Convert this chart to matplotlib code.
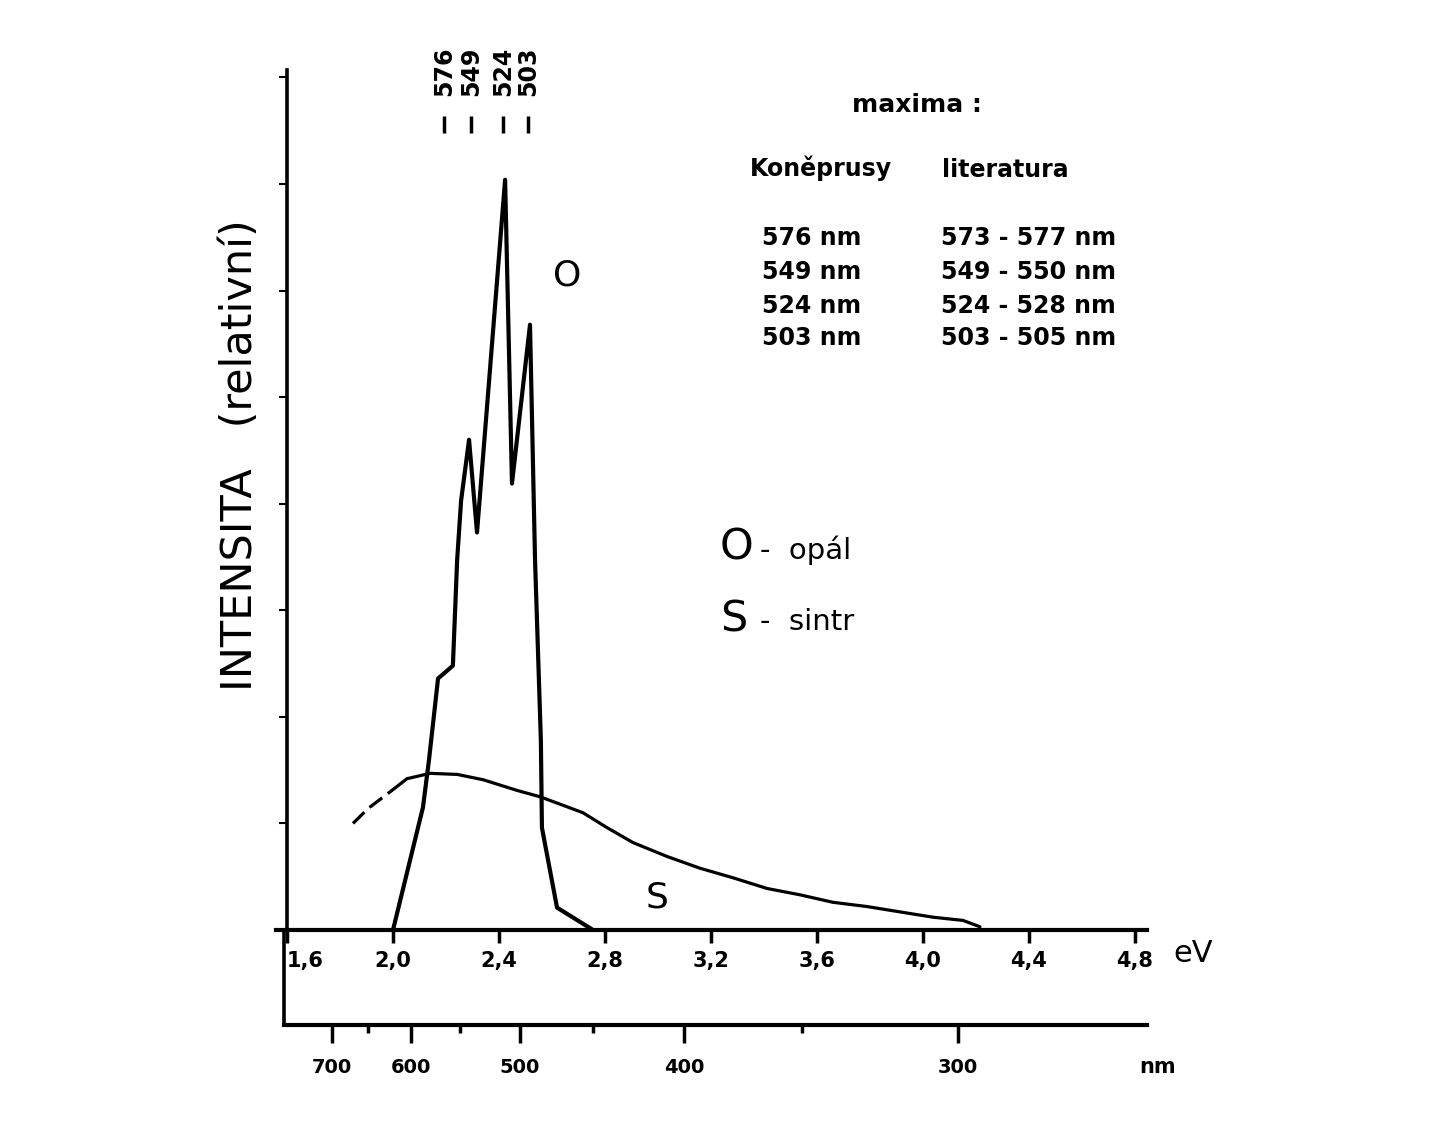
import matplotlib
matplotlib.use('Agg')
import matplotlib.pyplot as plt

# ─── Data ─────────────────────────────────────────────────────────────────────
# energy in eV, intensity in units of one y tick (relative)
opal_ev = [2.000, 2.113, 2.136, 2.170, 2.226, 2.242, 2.257, 2.287, 2.317,
           2.423, 2.449, 2.517, 2.536, 2.558, 2.562, 2.619, 2.755]
opal_int = [0.00, 1.15, 1.60, 2.36, 2.48, 3.47, 4.03, 4.60, 3.73,
            7.04, 4.19, 5.68, 3.47, 1.78, 0.96, 0.21, 0.00]

# first three points of the sintr curve are drawn dashed (extrapolated)
sintr_ev = [1.849, 1.906, 1.996, 2.053, 2.140, 2.242, 2.340, 2.468, 2.555,
            2.642, 2.717, 2.808, 2.906, 3.034, 3.158, 3.283, 3.411, 3.536,
            3.660, 3.789, 3.913, 4.038, 4.151, 4.215]
sintr_int = [1.00, 1.14, 1.31, 1.42, 1.47, 1.46, 1.41, 1.31, 1.25,
             1.17, 1.10, 0.96, 0.82, 0.69, 0.58, 0.49, 0.39, 0.33,
             0.26, 0.22, 0.17, 0.12, 0.09, 0.03]
n_dashed = 3

# marked maxima (position as drawn on the chart, label in nm)
peak_ev = [2.192, 2.294, 2.415, 2.509]
peak_nm = [576, 549, 524, 503]
lit_ranges = ['573 - 577', '549 - 550', '524 - 528', '503 - 505']

ev_ticks = [1.6, 2.0, 2.4, 2.8, 3.2, 3.6, 4.0, 4.4, 4.8]
nm_major = [700, 600, 500, 400, 300]
nm_minor = [650, 550, 450, 350]
HC = 1239.84  # eV*nm

W, H = 1437, 1137
fig = plt.figure(figsize=(W / 100, H / 100), dpi=100)


def fx(px):
    return px / W


def fy(py):
    return 1 - py / H


# ─── Main panel (eV) ──────────────────────────────────────────────────────────
ax = fig.add_axes([fx(276), fy(930), (1147 - 276) / W, (930 - 70) / H])
ax.set_xlim(1.6 - 11 / 265, 1.6 + 860 / 265)
ax.set_ylim(0, 8.07)
ax.spines['top'].set_visible(False)
ax.spines['right'].set_visible(False)
ax.spines['left'].set_position(('data', 1.6))
ax.spines['left'].set_linewidth(2.6)
ax.spines['bottom'].set_linewidth(3)

ax.set_yticks(range(9))
ax.tick_params(axis='y', direction='out', length=6, width=1.5, labelleft=False)
ax.set_xticks(ev_ticks, labels=[f'{v:.1f}'.replace('.', ',') for v in ev_ticks])
ax.tick_params(axis='x', direction='out', length=9, width=2.5, pad=6, labelsize=15)
for i, lbl in enumerate(ax.get_xticklabels()):
    lbl.set_fontweight('bold')
    if i == 0:
        lbl.set_ha('left')

ax.plot(opal_ev, opal_int, color='black', lw=3,
        solid_joinstyle='round', solid_capstyle='round')
ax.plot(sintr_ev[:n_dashed], sintr_int[:n_dashed], color='black', lw=2.3,
        ls=(0, (5, 2.2)))
ax.plot(sintr_ev[n_dashed - 1:], sintr_int[n_dashed - 1:], color='black', lw=2.3,
        solid_joinstyle='round', solid_capstyle='round')

# maxima marks at the top
trans = ax.get_xaxis_transform()
ax.vlines(peak_ev, 0.927, 0.946, transform=trans, color='black', lw=2.5)
for e, nm in zip(peak_ev, peak_nm):
    ax.text(e, 0.998, str(nm), transform=trans, rotation=90, ha='center',
            va='center', fontsize=17, fontweight='bold', clip_on=False)

# ─── nm scale below ───────────────────────────────────────────────────────────
ax_nm = fig.add_axes([fx(284), fy(1025), (1147 - 284) / W, (1025 - 930) / H])
ax_nm.set_xlim(1.6 - 3 / 265, 1.6 + 860 / 265)
ax_nm.set_ylim(0, 1)
ax_nm.patch.set_alpha(0)
ax_nm.spines['top'].set_visible(False)
ax_nm.spines['right'].set_visible(False)
ax_nm.spines['left'].set_linewidth(2.6)
ax_nm.spines['bottom'].set_linewidth(3)
ax_nm.set_yticks([])
ax_nm.set_xticks([HC / v for v in nm_major], labels=[str(v) for v in nm_major])
ax_nm.set_xticks([HC / v for v in nm_minor], minor=True)
ax_nm.tick_params(axis='x', which='major', direction='out', length=13, width=2.5,
                  pad=11, labelsize=14)
ax_nm.tick_params(axis='x', which='minor', direction='out', length=6, width=2.5)
for lbl in ax_nm.get_xticklabels():
    lbl.set_fontweight('bold')

# ─── Texts ────────────────────────────────────────────────────────────────────
fig.text(fx(1193), fy(953), 'eV', fontsize=22, ha='center', va='center')
fig.text(fx(1158), fy(1067), 'nm', fontsize=15, fontweight='bold', ha='center', va='center')
fig.text(fx(240), fy(455), 'INTENSITA   (relativní)', rotation=90, fontsize=31,
         ha='center', va='center')

fig.text(fx(567), fy(275), 'O', fontsize=26, ha='center', va='center')
fig.text(fx(657), fy(898), 'S', fontsize=26, ha='center', va='center')

fig.text(fx(720), fy(548), 'O', fontsize=31, ha='left', va='center')
fig.text(fx(760), fy(550), '-  opál', fontsize=21, ha='left', va='center')
fig.text(fx(720), fy(620), 'S', fontsize=31, ha='left', va='center')
fig.text(fx(760), fy(622), '-  sintr', fontsize=21, ha='left', va='center')

fig.text(fx(852), fy(105), 'maxima :', fontsize=18, fontweight='bold', ha='left', va='center')
fig.text(fx(750), fy(168), 'Koněprusy', fontsize=17, fontweight='bold', ha='left', va='center')
fig.text(fx(942), fy(170), 'literatura', fontsize=17, fontweight='bold', ha='left', va='center')
row_y = [238, 272, 306, 338]
for y, nm, rng in zip(row_y, peak_nm, lit_ranges):
    fig.text(fx(762), fy(y), f'{nm} nm', fontsize=17, fontweight='bold', ha='left', va='center')
    fig.text(fx(941), fy(y), f'{rng} nm', fontsize=17, fontweight='bold', ha='left', va='center')

plt.savefig('out.png', dpi=100)
plt.close()
